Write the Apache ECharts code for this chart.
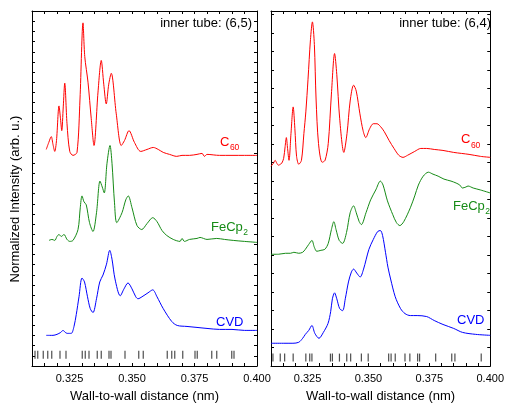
<!DOCTYPE html>
<html>
<head>
<meta charset="utf-8">
<script src="https://cdn.jsdelivr.net/npm/echarts@6/dist/echarts.min.js"></script>
<style>
html,body{margin:0;padding:0;background:#fff;}
#chart{width:507px;height:408px;}
</style>
</head>
<body>
<div id="chart"></div>
<script>
// x tick labels shown on the bottom axes
var tickLabels = ['0.325', '0.350', '0.375', '0.400'];

// inner tube (6,5)
var c60_65 = [[0.3157,219],[0.3167,226],[0.3177,232],[0.3184,224],[0.3191,217],[0.3198,228],[0.3208,263],[0.3214,250],[0.3219,238],[0.3225,262],[0.3231,286],[0.3240,245],[0.3251,217],[0.3264,213],[0.3280,216],[0.3292,270],[0.3304,347],[0.3311,313],[0.3324,287],[0.3337,250],[0.3348,223],[0.3364,277],[0.3377,309],[0.3387,285],[0.3397,265],[0.3407,285],[0.3417,296],[0.3437,255],[0.3457,223],[0.3470,228],[0.3488,238],[0.3510,226],[0.3535,217],[0.3560,219],[0.3585,221],[0.3605,219],[0.3625,216],[0.3650,214],[0.3679,212],[0.3700,213],[0.3730,213],[0.3760,214],[0.3780,215],[0.3790,212],[0.3800,214],[0.3850,213],[0.3900,213],[0.3950,213],[0.4000,213]];
var fecp_65 = [[0.3168,127],[0.3180,128],[0.3191,127],[0.3200,131],[0.3208,133],[0.3217,131],[0.3228,133],[0.3240,128],[0.3251,126],[0.3264,127],[0.3284,138],[0.3293,160],[0.3300,172],[0.3308,166],[0.3317,163],[0.3330,145],[0.3344,136],[0.3358,155],[0.3372,187],[0.3381,181],[0.3389,175],[0.3400,205],[0.3412,223],[0.3420,205],[0.3430,165],[0.3439,145],[0.3460,155],[0.3475,168],[0.3485,172],[0.3500,160],[0.3520,142],[0.3539,138],[0.3560,144],[0.3583,150],[0.3600,146],[0.3620,137],[0.3639,132],[0.3665,128],[0.3692,126],[0.3700,129],[0.3710,126],[0.3730,128],[0.3760,129],[0.3772,130],[0.3800,128],[0.3839,129],[0.3870,128],[0.3905,127],[0.3950,126],[0.4000,125]];
var cvd_65 = [[0.3157,31],[0.3170,31],[0.3184,31],[0.3200,32],[0.3215,34],[0.3224,36],[0.3233,34],[0.3241,33],[0.3257,33],[0.3268,40],[0.3277,52],[0.3288,70],[0.3300,89],[0.3310,85],[0.3322,70],[0.3333,58],[0.3344,54],[0.3358,68],[0.3371,85],[0.3384,92],[0.3398,103],[0.3411,117],[0.3420,108],[0.3432,88],[0.3453,71],[0.3468,78],[0.3484,84],[0.3500,78],[0.3515,70],[0.3524,68],[0.3540,70],[0.3564,74],[0.3583,77],[0.3600,70],[0.3625,58],[0.3659,45],[0.3681,41],[0.3720,40],[0.3760,39],[0.3800,38],[0.3850,37],[0.3900,37],[0.3950,36],[0.4000,36]];
var sticks_65 = [0.3112,0.3123,0.3145,0.3163,0.3179,0.3212,0.3236,0.3301,0.3313,0.3328,0.3361,0.3377,0.3408,0.3416,0.3472,0.3527,0.3545,0.3641,0.3659,0.3671,0.3703,0.3752,0.3761,0.3819,0.3839,0.3899,0.3908];

// inner tube (6,4)
var c60_64 = [[0.3100,202],[0.3110,205],[0.3117,208],[0.3124,205],[0.3131,203],[0.3138,204],[0.3144,205],[0.3152,210],[0.3158,222],[0.3163,231],[0.3168,220],[0.3174,208],[0.3182,235],[0.3191,262],[0.3198,240],[0.3205,212],[0.3214,204],[0.3225,208],[0.3235,235],[0.3243,257],[0.3252,290],[0.3262,330],[0.3270,348],[0.3278,325],[0.3285,270],[0.3295,225],[0.3310,206],[0.3322,208],[0.3335,225],[0.3348,275],[0.3361,316],[0.3370,295],[0.3382,250],[0.3399,216],[0.3412,235],[0.3425,268],[0.3439,284],[0.3450,278],[0.3465,255],[0.3478,238],[0.3489,231],[0.3505,240],[0.3520,245],[0.3535,245],[0.3550,242],[0.3565,237],[0.3585,228],[0.3605,220],[0.3625,213],[0.3642,211],[0.3660,213],[0.3690,217],[0.3715,220],[0.3739,220],[0.3770,219],[0.3806,218],[0.3850,216],[0.3913,214],[0.3960,212],[0.4000,211]];
var fecp_64 = [[0.3100,113],[0.3130,113],[0.3160,114],[0.3180,114],[0.3194,115],[0.3214,114],[0.3230,115],[0.3241,118],[0.3255,123],[0.3268,127],[0.3278,120],[0.3288,116],[0.3305,117],[0.3321,118],[0.3335,124],[0.3348,138],[0.3358,146],[0.3367,138],[0.3380,127],[0.3394,124],[0.3410,135],[0.3425,155],[0.3439,162],[0.3450,155],[0.3462,146],[0.3471,143],[0.3490,155],[0.3509,168],[0.3530,178],[0.3549,187],[0.3560,183],[0.3578,167],[0.3600,153],[0.3615,145],[0.3629,142],[0.3645,146],[0.3672,160],[0.3690,172],[0.3705,183],[0.3725,192],[0.3746,196],[0.3765,194],[0.3786,192],[0.3810,189],[0.3839,187],[0.3860,185],[0.3875,183],[0.3886,180],[0.3900,181],[0.3909,182],[0.3930,180],[0.3960,178],[0.4000,175]];
var cvd_64 = [[0.3100,23],[0.3150,23],[0.3190,23],[0.3214,24],[0.3230,28],[0.3241,32],[0.3255,36],[0.3268,41],[0.3280,33],[0.3297,28],[0.3315,34],[0.3334,43],[0.3345,55],[0.3352,68],[0.3361,74],[0.3370,68],[0.3382,58],[0.3394,56],[0.3405,68],[0.3418,85],[0.3430,95],[0.3439,98],[0.3452,94],[0.3466,90],[0.3480,98],[0.3502,118],[0.3520,128],[0.3538,136],[0.3549,137],[0.3558,132],[0.3570,115],[0.3580,100],[0.3591,88],[0.3610,70],[0.3632,58],[0.3650,53],[0.3672,51],[0.3700,51],[0.3739,50],[0.3770,46],[0.3806,42],[0.3850,38],[0.3886,34],[0.3940,32],[0.4000,31]];
var sticks_64 = [0.3108,0.3138,0.3156,0.3191,0.3243,0.3259,0.3268,0.3344,0.3352,0.3381,0.3411,0.3427,0.3471,0.3499,0.3583,0.3593,0.3610,0.3650,0.3670,0.3702,0.3710,0.3776,0.3842,0.3855,0.3963];

var RED = '#ff0000', GREEN = '#168b16', BLUE = '#0000ff';
var FONT = '"Liberation Sans", Arial, sans-serif';

var myChart = echarts.init(document.getElementById('chart'));

// measure text so a subscript can sit right after its main text
var ctx = document.createElement('canvas').getContext('2d');
function textWidth(t, size) {
    ctx.font = size + 'px ' + FONT;
    return ctx.measureText(t).width;
}

function xAx(grid, pos, withLabel) {
    return {
        type: 'value', gridIndex: grid, position: pos,
        min: 0.31, max: 0.40, interval: 0.005,
        name: withLabel ? 'Wall-to-wall distance (nm)' : '',
        nameLocation: 'middle', nameGap: 24,
        nameTextStyle: { fontSize: 13, color: '#000', fontFamily: FONT },
        axisLine: { show: true, onZero: false, lineStyle: { color: '#000', width: 1 } },
        axisTick: { show: true, inside: true, length: 3, lineStyle: { color: '#000' } },
        axisLabel: {
            show: withLabel, fontSize: 11, color: '#000', fontFamily: FONT, margin: 7,
            showMinLabel: true, showMaxLabel: true,
            formatter: function (v) {
                var s = v.toFixed(3);
                return tickLabels.indexOf(s) >= 0 ? s : '';
            }
        },
        splitLine: { show: false }
    };
}
function yAx(grid, pos, step) {
    return {
        type: 'value', gridIndex: grid, position: pos,
        min: 0, max: 359, interval: step,
        axisLine: { show: true, onZero: false, lineStyle: { color: '#000', width: 1 } },
        axisTick: { show: true, inside: true, length: 3, lineStyle: { color: '#000' } },
        axisLabel: { show: false },
        splitLine: { show: false }
    };
}
function line(data, color, g) {
    return {
        type: 'line', xAxisIndex: g * 2, yAxisIndex: g * 2, data: data,
        smooth: 0.3, symbol: 'none', lineStyle: { color: color, width: 1 },
        itemStyle: { color: color }, z: 3
    };
}
function sticks(list, y, g) {
    return {
        type: 'scatter', xAxisIndex: g * 2, yAxisIndex: g * 2,
        data: list.map(function (v) { return [v, y]; }),
        symbol: 'rect', symbolSize: [1.2, 8],
        itemStyle: { color: '#222' }, z: 2
    };
}
function txt(x, y, s, size, color, align, valign, rot) {
    return {
        type: 'text', x: x, y: y, z: 10, rotation: rot || 0,
        style: {
            text: s, fill: color, font: size + 'px ' + FONT,
            align: align, verticalAlign: valign,
            textAlign: align, textVerticalAlign: valign
        }
    };
}
// curve name with an optional subscript
function label(x, y, main, sub, color) {
    var out = [txt(x, y, main, 13, color, 'left', 'middle')];
    if (sub) out.push(txt(x + textWidth(main, 13) + 0.5, y + 6, sub, 8.5, color, 'left', 'middle'));
    return out;
}

var option = {
    animation: false,
    backgroundColor: '#fff',
    grid: [
        { left: 32, top: 11, width: 225, height: 359 },
        { left: 271, top: 11, width: 224, height: 359 }
    ],
    xAxis: [
        xAx(0, 'bottom', true), xAx(0, 'top', false),
        xAx(1, 'bottom', true), xAx(1, 'top', false)
    ],
    yAxis: [
        yAx(0, 'left', 10.25), yAx(0, 'right', 10.25),
        yAx(1, 'left', 18.7), yAx(1, 'right', 18.7)
    ],
    series: [
        line(c60_65, RED, 0), line(fecp_65, GREEN, 0), line(cvd_65, BLUE, 0),
        sticks(sticks_65, 11.5, 0),
        line(c60_64, RED, 1), line(fecp_64, GREEN, 1), line(cvd_64, BLUE, 1),
        sticks(sticks_64, 8.5, 1)
    ],
    graphic: [
        txt(252, 17, 'inner tube: (6,5)', 13, '#000', 'right', 'top'),
        txt(491, 17, 'inner tube: (6,4)', 13, '#000', 'right', 'top'),
        txt(15, 199, 'Normalized Intensity (arb. u.)', 13, '#000', 'center', 'middle', Math.PI / 2)
    ].concat(
        label(220, 142, 'C', '60', RED),
        label(211, 227, 'FeCp', '2', GREEN),
        label(216, 322, 'CVD', '', BLUE),
        label(461, 139.5, 'C', '60', RED),
        label(453, 206, 'FeCp', '2', GREEN),
        label(457, 320, 'CVD', '', BLUE)
    )
};

myChart.setOption(option);
</script>
</body>
</html>
